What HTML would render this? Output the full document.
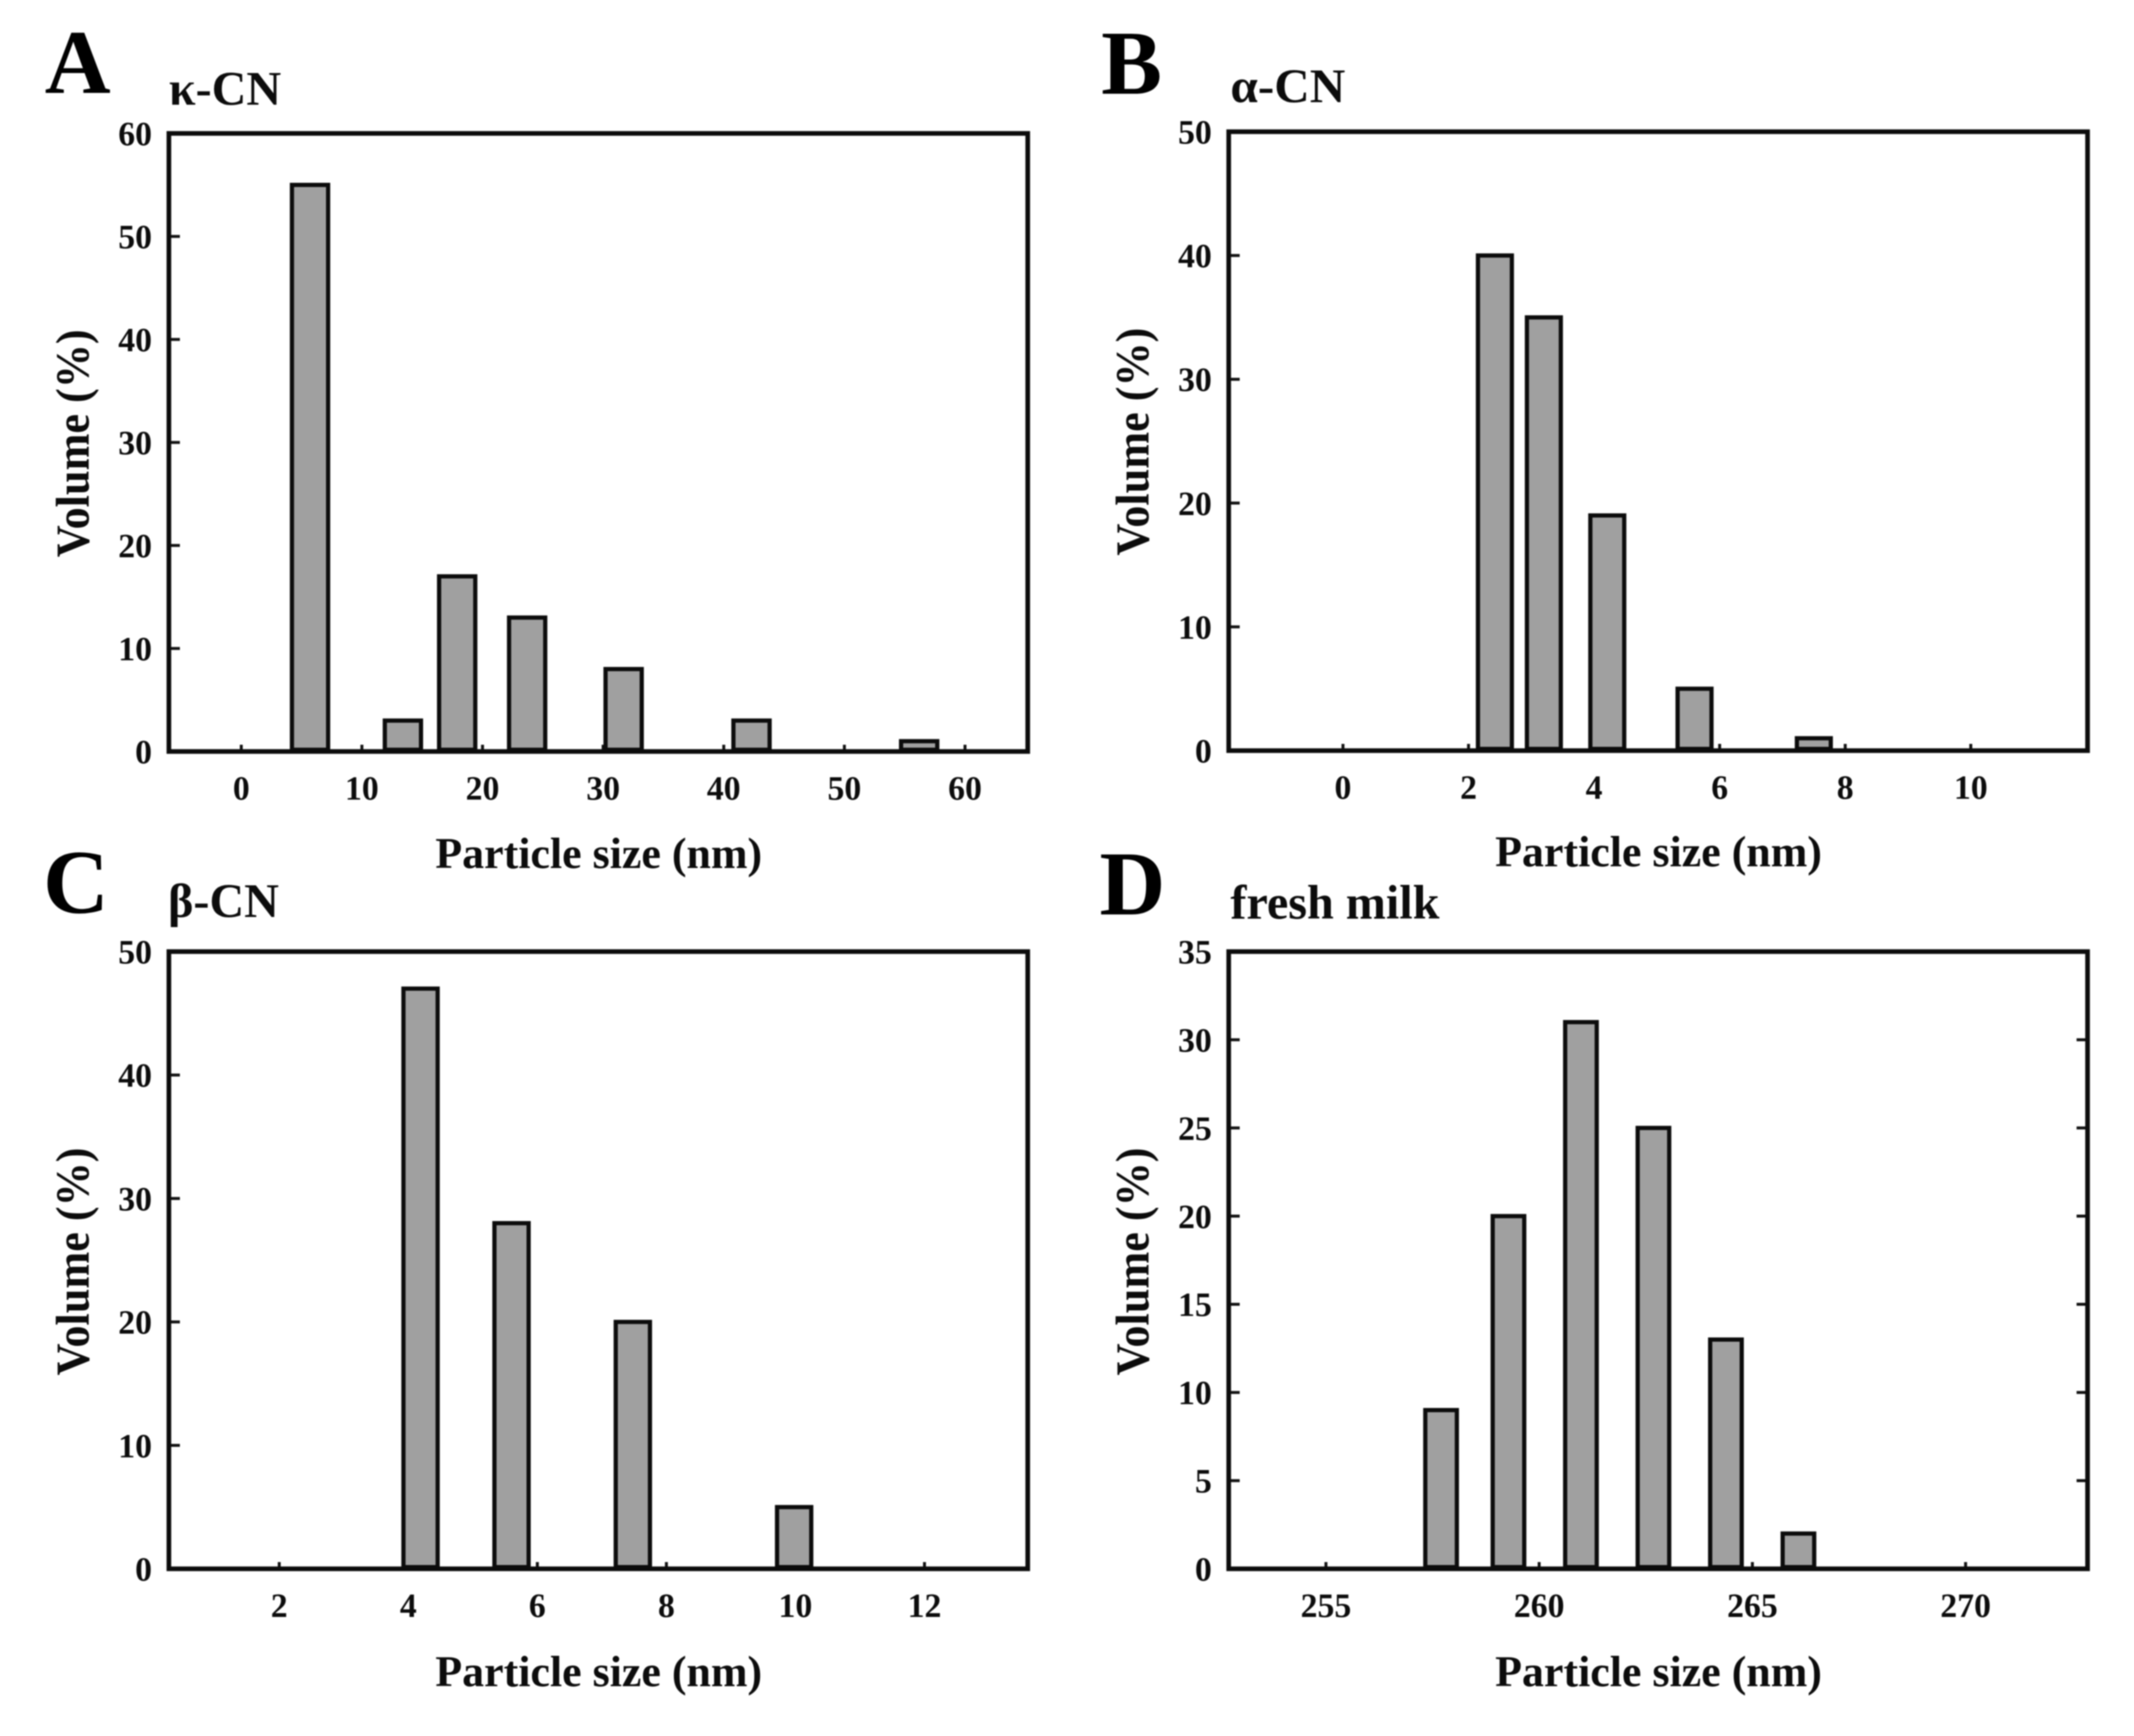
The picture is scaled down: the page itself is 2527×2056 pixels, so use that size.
<!DOCTYPE html>
<html lang="en">
<head>
<meta charset="utf-8">
<title>Particle size distributions of κ-CN, α-CN, β-CN and fresh milk</title>
<style>
  html, body { margin: 0; padding: 0; background: #fff; }
  svg { display: block; filter: blur(0.8px); }
  text { font-family: "Liberation Serif", "DejaVu Serif", serif; font-weight: bold; fill: #0c0c0c; }
  .panel-letter { font-size: 108px; fill: #000; }
  .subtitle { font-size: 57px; }
  .axis-title { font-size: 52px; text-anchor: middle; }
  .y-title { font-size: 56px; text-anchor: middle; }
  .tick-label { font-size: 40px; }
</style>
</head>
<body>
<svg id="figure" xmlns="http://www.w3.org/2000/svg" width="2527" height="2056" viewBox="0 0 2527 2056">
  <rect x="0" y="0" width="2527" height="2056" fill="#ffffff"/>

  <g id="panel-a">
    <text class="panel-letter" x="53" y="110">A</text>
    <text class="subtitle" x="200" y="124">κ-CN</text>
    <text class="axis-title" x="709" y="1028">Particle size (nm)</text>
    <text class="y-title" transform="translate(105 525) rotate(-90)" textLength="270" lengthAdjust="spacingAndGlyphs">Volume (%)</text>
  </g>

  <g id="panel-b">
    <text class="panel-letter" x="1304" y="111">B</text>
    <text class="subtitle" x="1457" y="121" textLength="136" lengthAdjust="spacingAndGlyphs">α-CN</text>
    <text class="axis-title" x="1964" y="1026">Particle size (nm)</text>
    <text class="y-title" transform="translate(1360 523) rotate(-90)" textLength="270" lengthAdjust="spacingAndGlyphs">Volume (%)</text>
  </g>

  <g id="panel-c">
    <text class="panel-letter" x="51" y="1081">C</text>
    <text class="subtitle" x="199" y="1086">β-CN</text>
    <text class="axis-title" x="709" y="1997">Particle size (nm)</text>
    <text class="y-title" transform="translate(105 1494) rotate(-90)" textLength="270" lengthAdjust="spacingAndGlyphs">Volume (%)</text>
  </g>

  <g id="panel-d">
    <text class="panel-letter" x="1302" y="1083">D</text>
    <text class="subtitle" x="1457" y="1088">fresh milk</text>
    <text class="axis-title" x="1964" y="1997">Particle size (nm)</text>
    <text class="y-title" transform="translate(1360 1494) rotate(-90)" textLength="270" lengthAdjust="spacingAndGlyphs">Volume (%)</text>
  </g>
</svg>

<script>
// Panel A: kappa-casein
const kappaSizes = [5.7, 13.4, 17.9, 23.7, 31.7, 42.3, 56.2];
const kappaVolumes = [55, 3, 17, 13, 8, 3, 1];
const kappaXTicks = [0, 10, 20, 30, 40, 50, 60];
const kappaYTicks = [0, 10, 20, 30, 40, 50, 60];

// Panel B: alpha-casein
const alphaSizes = [2.42, 3.2, 4.21, 5.6, 7.5];
const alphaVolumes = [40, 35, 19, 5, 1];
const alphaXTicks = [0, 2, 4, 6, 8, 10];
const alphaYTicks = [0, 10, 20, 30, 40, 50];

// Panel C: beta-casein
const betaSizes = [4.19, 5.6, 7.48, 9.98];
const betaVolumes = [47, 28, 20, 5];
const betaXTicks = [2, 4, 6, 8, 10, 12];
const betaYTicks = [0, 10, 20, 30, 40, 50];

// Panel D: fresh milk
const milkSizes = [257.7, 259.28, 260.98, 262.68, 264.38, 266.08];
const milkVolumes = [9, 20, 31, 25, 13, 2];
const milkXTicks = [255, 260, 265, 270];
const milkYTicks = [0, 5, 10, 15, 20, 25, 30, 35];

const SVG_NS = 'http://www.w3.org/2000/svg';

function make(tag, attrs) {
  const el = document.createElementNS(SVG_NS, tag);
  for (const key in attrs) {
    el.setAttribute(key, attrs[key]);
  }
  return el;
}

function drawPanel(opts) {
  const parent = document.getElementById(opts.id);
  const p = opts.prefix;
  const xOf = v => opts.left + (v - opts.xMin) / (opts.xMax - opts.xMin) * (opts.right - opts.left);
  const yOf = v => opts.bottom - (v - opts.yMin) / (opts.yMax - opts.yMin) * (opts.bottom - opts.top);

  // y ticks and labels
  opts.yTicks.forEach(t => {
    const y = yOf(t);
    if (t !== opts.yMin && t !== opts.yMax) {
      const tick = make('line', { x1: opts.left, x2: opts.left + 13, y1: y, y2: y, stroke: '#111', 'stroke-width': 3.5 });
      
      
      parent.appendChild(tick);
      if (opts.rightTicks) {
        const rightTick = make('line', { x1: opts.right - 13, x2: opts.right, y1: y, y2: y, stroke: '#111', 'stroke-width': 3.5 });
        
        
        parent.appendChild(rightTick);
      }
    }
    const label = make('text', { x: opts.left - 20, y: y + 14, 'text-anchor': 'end', class: 'tick-label' });
    
    
    label.textContent = t;
    parent.appendChild(label);
  });

  // x ticks and labels
  opts.xTicks.forEach(t => {
    const x = xOf(t);
    const tick = make('line', { x1: x, x2: x, y1: opts.bottom, y2: opts.bottom - 8, stroke: '#111', 'stroke-width': 3.5 });
    
    
    parent.appendChild(tick);
    const label = make('text', { x: x, y: opts.bottom + 57, 'text-anchor': 'middle', class: 'tick-label' });
    
    
    label.textContent = t;
    parent.appendChild(label);
  });

  // bars
  opts.sizes.forEach((s, i) => {
    const x0 = xOf(s - opts.binWidth / 2);
    const x1 = xOf(s + opts.binWidth / 2);
    const yTop = yOf(opts.volumes[i]);
    const yBase = yOf(opts.yMin) - 2;
    const bar = make('rect', { x: x0, y: yTop, width: x1 - x0, height: yBase - yTop, fill: '#a0a0a0', stroke: '#0c0c0c', 'stroke-width': 5 });
    
    
    parent.appendChild(bar);
  });

  // plot frame
  const frame = make('rect', { x: opts.left, y: opts.top, width: opts.right - opts.left, height: opts.bottom - opts.top, fill: 'none', stroke: '#0c0c0c', 'stroke-width': 5.5 });
  
  
  parent.appendChild(frame);
}

drawPanel({ id: 'panel-a', prefix: 'panel-a', left: 200, right: 1217, top: 158, bottom: 890,
  xMin: -6, xMax: 65.2, yMin: 0, yMax: 60, binWidth: 3.0,
  sizes: kappaSizes, volumes: kappaVolumes, xTicks: kappaXTicks, yTicks: kappaYTicks, rightTicks: false });

drawPanel({ id: 'panel-b', prefix: 'panel-b', left: 1455, right: 2472, top: 156, bottom: 889,
  xMin: -1.82, xMax: 11.86, yMin: 0, yMax: 50, binWidth: 0.54,
  sizes: alphaSizes, volumes: alphaVolumes, xTicks: alphaXTicks, yTicks: alphaYTicks, rightTicks: false });

drawPanel({ id: 'panel-c', prefix: 'panel-c', left: 200, right: 1217, top: 1127, bottom: 1858,
  xMin: 0.29, xMax: 13.6, yMin: 0, yMax: 50, binWidth: 0.53,
  sizes: betaSizes, volumes: betaVolumes, xTicks: betaXTicks, yTicks: betaYTicks, rightTicks: false });

drawPanel({ id: 'panel-d', prefix: 'panel-d', left: 1455, right: 2472, top: 1127, bottom: 1858,
  xMin: 252.72, xMax: 272.86, yMin: 0, yMax: 35, binWidth: 0.74,
  sizes: milkSizes, volumes: milkVolumes, xTicks: milkXTicks, yTicks: milkYTicks, rightTicks: true });
</script>
</body>
</html>
